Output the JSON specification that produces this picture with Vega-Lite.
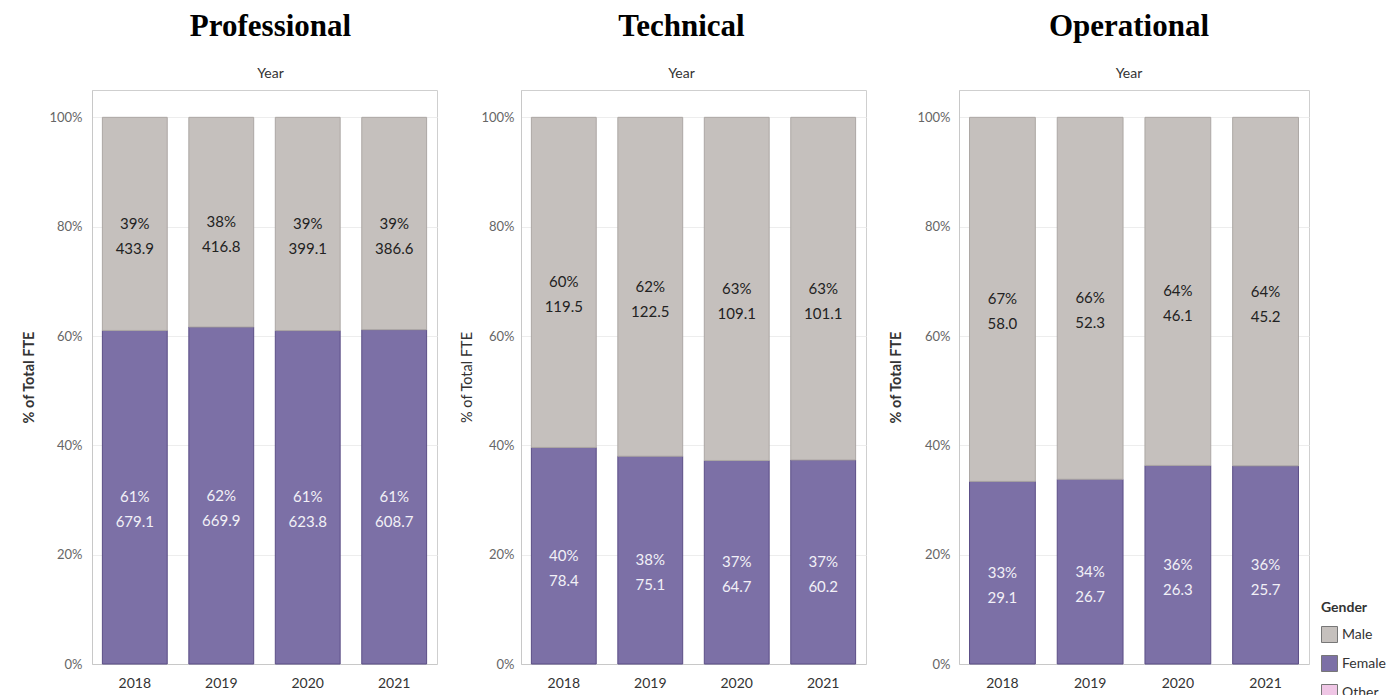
{
  "$schema": "https://vega.github.io/schema/vega-lite/v6.json",
  "padding": {"left": 21, "top": 10, "right": 0, "bottom": 0},
  "background": "white",
  "data": {"values": [
    {"panel": "Professional", "year": "2018", "gender": "Female", "fte": 679.1, "label": "61%\n679.1"},
    {"panel": "Professional", "year": "2018", "gender": "Male", "fte": 433.9, "label": "39%\n433.9"},
    {"panel": "Professional", "year": "2019", "gender": "Female", "fte": 669.9, "label": "62%\n669.9"},
    {"panel": "Professional", "year": "2019", "gender": "Male", "fte": 416.8, "label": "38%\n416.8"},
    {"panel": "Professional", "year": "2020", "gender": "Female", "fte": 623.8, "label": "61%\n623.8"},
    {"panel": "Professional", "year": "2020", "gender": "Male", "fte": 399.1, "label": "39%\n399.1"},
    {"panel": "Professional", "year": "2021", "gender": "Female", "fte": 608.7, "label": "61%\n608.7"},
    {"panel": "Professional", "year": "2021", "gender": "Male", "fte": 386.6, "label": "39%\n386.6"},
    {"panel": "Technical", "year": "2018", "gender": "Female", "fte": 78.4, "label": "40%\n78.4"},
    {"panel": "Technical", "year": "2018", "gender": "Male", "fte": 119.5, "label": "60%\n119.5"},
    {"panel": "Technical", "year": "2019", "gender": "Female", "fte": 75.1, "label": "38%\n75.1"},
    {"panel": "Technical", "year": "2019", "gender": "Male", "fte": 122.5, "label": "62%\n122.5"},
    {"panel": "Technical", "year": "2020", "gender": "Female", "fte": 64.7, "label": "37%\n64.7"},
    {"panel": "Technical", "year": "2020", "gender": "Male", "fte": 109.1, "label": "63%\n109.1"},
    {"panel": "Technical", "year": "2021", "gender": "Female", "fte": 60.2, "label": "37%\n60.2"},
    {"panel": "Technical", "year": "2021", "gender": "Male", "fte": 101.1, "label": "63%\n101.1"},
    {"panel": "Operational", "year": "2018", "gender": "Female", "fte": 29.1, "label": "33%\n29.1"},
    {"panel": "Operational", "year": "2018", "gender": "Male", "fte": 58.0, "label": "67%\n58.0"},
    {"panel": "Operational", "year": "2019", "gender": "Female", "fte": 26.7, "label": "34%\n26.7"},
    {"panel": "Operational", "year": "2019", "gender": "Male", "fte": 52.3, "label": "66%\n52.3"},
    {"panel": "Operational", "year": "2020", "gender": "Female", "fte": 26.3, "label": "36%\n26.3"},
    {"panel": "Operational", "year": "2020", "gender": "Male", "fte": 46.1, "label": "64%\n46.1"},
    {"panel": "Operational", "year": "2021", "gender": "Female", "fte": 25.7, "label": "36%\n25.7"},
    {"panel": "Operational", "year": "2021", "gender": "Male", "fte": 45.2, "label": "64%\n45.2"}
  ]},
  "spacing": 21,
  "hconcat": [
    {
      "title": {"text": "Professional", "subtitle": "Year", "dx": 6},
      "width": 345,
      "height": 574,
      "transform": [
        {"filter": "datum.panel === 'Professional'"},
        {"stack": "fte", "groupby": ["year"], "sort": [{"field": "gender", "order": "ascending"}], "offset": "normalize", "as": ["y0", "y1"]}
      ],
      "layer": [
        {
          "mark": {"type": "bar", "strokeWidth": 1},
          "encoding": {
            "x": {"field": "year", "type": "ordinal", "scale": {"paddingInner": 0.25, "paddingOuter": 0.12}, "axis": {"title": null, "labelAngle": 0}},
            "y": {"field": "y1", "type": "quantitative", "scale": {"domain": [0, 1.05], "nice": false}, "axis": {"title": "% of Total FTE", "titleFontWeight": "bold", "values": [0, 0.2, 0.4, 0.6, 0.8, 1], "format": ".0%", "labelPadding": 10, "titlePadding": 12}},
            "y2": {"field": "y0"},
            "color": {"field": "gender", "type": "nominal", "scale": {"domain": ["Male", "Female", "Other"], "range": ["#c5c0bd", "#7c70a6", "#efc6e5"]}, "legend": {"title": "Gender", "orient": "none", "legendX": 1229, "legendY": 511}},
            "stroke": {"condition": {"test": "datum.gender === 'Female'", "value": "#5b4e86"}, "value": "#aca7a4"}
          }
        },
        {
          "transform": [{"fold": ["y0", "y1"], "as": ["k", "v"]}],
          "mark": {"type": "text", "fontSize": 15, "lineBreak": "\n", "lineHeight": 25, "baseline": "middle", "font": "Lato"},
          "encoding": {
            "x": {"field": "year", "type": "ordinal"},
            "y": {"aggregate": "mean", "field": "v", "type": "quantitative"},
            "text": {"field": "label"},
            "detail": {"field": "gender"},
            "color": {"condition": {"test": "datum.gender === 'Female'", "value": "#f2f0f7"}, "value": "#222222"}
          }
        }
      ]
    },
    {
      "title": {"text": "Technical", "subtitle": "Year", "dx": -12},
      "width": 345,
      "height": 574,
      "transform": [
        {"filter": "datum.panel === 'Technical'"},
        {"stack": "fte", "groupby": ["year"], "sort": [{"field": "gender", "order": "ascending"}], "offset": "normalize", "as": ["y0", "y1"]}
      ],
      "layer": [
        {
          "mark": {"type": "bar", "strokeWidth": 1},
          "encoding": {
            "x": {"field": "year", "type": "ordinal", "scale": {"paddingInner": 0.25, "paddingOuter": 0.12}, "axis": {"title": null, "labelAngle": 0}},
            "y": {"field": "y1", "type": "quantitative", "scale": {"domain": [0, 1.05], "nice": false}, "axis": {"title": "% of Total FTE", "titleFontWeight": "normal", "values": [0, 0.2, 0.4, 0.6, 0.8, 1], "format": ".0%", "labelPadding": 7, "titlePadding": 6}},
            "y2": {"field": "y0"},
            "color": {"field": "gender", "type": "nominal"},
            "stroke": {"condition": {"test": "datum.gender === 'Female'", "value": "#5b4e86"}, "value": "#aca7a4"}
          }
        },
        {
          "transform": [{"fold": ["y0", "y1"], "as": ["k", "v"]}],
          "mark": {"type": "text", "fontSize": 15, "lineBreak": "\n", "lineHeight": 25, "baseline": "middle", "font": "Lato"},
          "encoding": {
            "x": {"field": "year", "type": "ordinal"},
            "y": {"aggregate": "mean", "field": "v", "type": "quantitative"},
            "text": {"field": "label"},
            "detail": {"field": "gender"},
            "color": {"condition": {"test": "datum.gender === 'Female'", "value": "#f2f0f7"}, "value": "#222222"}
          }
        }
      ]
    },
    {
      "title": {"text": "Operational", "subtitle": "Year", "dx": -5},
      "width": 350,
      "height": 574,
      "transform": [
        {"filter": "datum.panel === 'Operational'"},
        {"stack": "fte", "groupby": ["year"], "sort": [{"field": "gender", "order": "ascending"}], "offset": "normalize", "as": ["y0", "y1"]}
      ],
      "layer": [
        {
          "mark": {"type": "bar", "strokeWidth": 1},
          "encoding": {
            "x": {"field": "year", "type": "ordinal", "scale": {"paddingInner": 0.25, "paddingOuter": 0.12}, "axis": {"title": null, "labelAngle": 0}},
            "y": {"field": "y1", "type": "quantitative", "scale": {"domain": [0, 1.05], "nice": false}, "axis": {"title": "% of Total FTE", "titleFontWeight": "bold", "values": [0, 0.2, 0.4, 0.6, 0.8, 1], "format": ".0%", "labelPadding": 9, "titlePadding": 13}},
            "y2": {"field": "y0"},
            "color": {"field": "gender", "type": "nominal"},
            "stroke": {"condition": {"test": "datum.gender === 'Female'", "value": "#5b4e86"}, "value": "#aca7a4"}
          }
        },
        {
          "transform": [{"fold": ["y0", "y1"], "as": ["k", "v"]}],
          "mark": {"type": "text", "fontSize": 15, "lineBreak": "\n", "lineHeight": 25, "baseline": "middle", "font": "Lato"},
          "encoding": {
            "x": {"field": "year", "type": "ordinal"},
            "y": {"aggregate": "mean", "field": "v", "type": "quantitative"},
            "text": {"field": "label"},
            "detail": {"field": "gender"},
            "color": {"condition": {"test": "datum.gender === 'Female'", "value": "#f2f0f7"}, "value": "#222222"}
          }
        }
      ]
    }
  ],
  "config": {
    "font": "Lato",
    "view": {"stroke": "#cfcfcf", "strokeWidth": 1},
    "title": {"font": "Liberation Serif", "fontSize": 31, "fontWeight": "bold", "color": "#000000", "anchor": "middle", "frame": "group", "subtitleFont": "Lato", "subtitleFontSize": 14, "subtitleColor": "#333333", "subtitlePadding": 24, "offset": 8},
    "axis": {"labelFont": "Lato", "titleFont": "Lato", "domainColor": "#c8c8c8", "gridColor": "#ededed", "ticks": false},
    "axisY": {"labelFontSize": 13, "labelColor": "#666666", "titleFontSize": 14.5, "titleColor": "#333333", "grid": true},
    "axisX": {"labelFontSize": 14, "labelColor": "#333333", "labelPadding": 12, "grid": false},
    "legend": {"titleFont": "Lato", "titleFontSize": 14, "titleColor": "#333333", "titleFontWeight": "bold", "labelFont": "Lato", "labelFontSize": 14, "labelColor": "#333333", "symbolType": "square", "symbolSize": 256, "symbolStrokeWidth": 1, "symbolStrokeColor": "#777777", "rowPadding": 8, "titlePadding": 11}
  }
}
